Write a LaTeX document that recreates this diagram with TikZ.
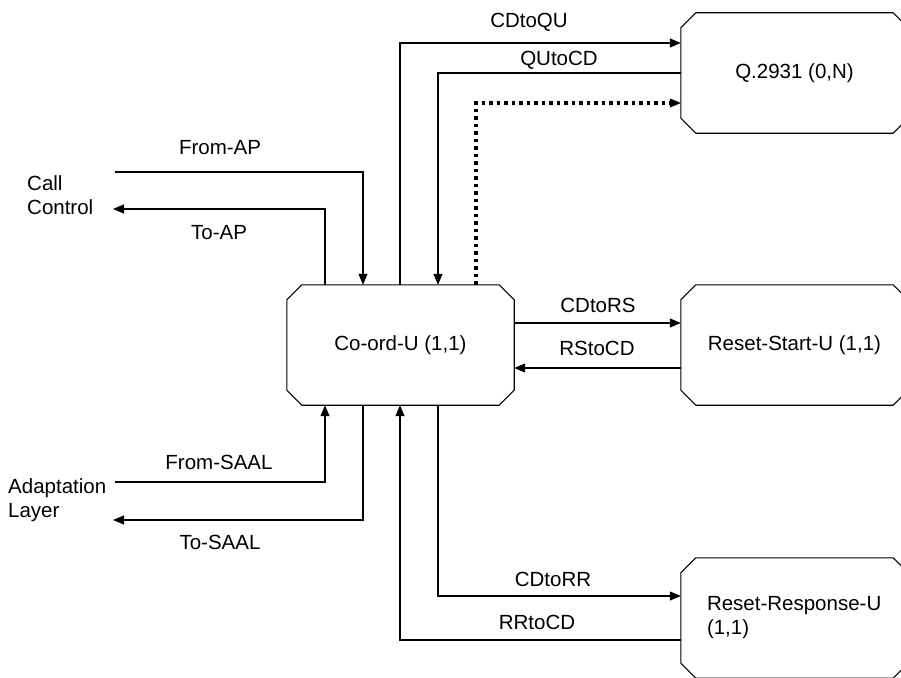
\documentclass[tikz,border=0pt]{standalone}
\usepackage{fontspec}
\setmainfont{Liberation Sans}
\usetikzlibrary{arrows.meta,calc}
\newcommand\chbox[1]{%
  \draw[boxline] ([xshift=15pt]#1.north west) -- ([xshift=-15pt]#1.north east)
    -- ([yshift=-15pt]#1.north east) -- ([yshift=15pt]#1.south east)
    -- ([xshift=-15pt]#1.south east) -- ([xshift=15pt]#1.south west)
    -- ([yshift=15pt]#1.south west) -- ([yshift=-15pt]#1.north west) -- cycle;}
\begin{document}
\begin{tikzpicture}[x=1pt,y=-1pt,
  every node/.style={font=\fontsize{20.5}{24}\selectfont},
  box/.style={minimum width=227pt,minimum height=120pt,inner sep=0pt},
  boxline/.style={line width=1.1pt,line join=miter},
  lbl/.style={inner sep=0pt},
  conn/.style={line width=1.1pt},
  arr/.style={conn,-{Triangle[length=11pt,width=9pt]}},
  dotarr/.style={line width=3.5pt,dash pattern=on 3.5pt off 4pt,
    -{Triangle[length=11pt,width=9pt,line width=0.5pt]}}]
\clip (0,0) rectangle (901,677);
\fill[white] (0,0) rectangle (901,677);

% boxes
\node[box] (cd) at (400.5,345) {Co-ord-U (1,1)};
\node[box] (q)  at (794.5,73)  {Q.2931 (0,N)};
\node[box] (rs) at (794.5,345) {Reset-Start-U (1,1)};
\node[box,text width=175pt,align=left] (rr) at (794.5,618) {Reset-Response-U\\(1,1)};
\chbox{cd}\chbox{q}\chbox{rs}\chbox{rr}

% outside parties
\node[lbl,anchor=west,align=left] (cc) at (27,195) {Call\\Control};
\node[lbl,anchor=west,align=left] (al) at (8,500) {Adaptation\\Layer};
\coordinate (apin) at (115,172);
\coordinate (apout) at (113,209);
\coordinate (saalin) at (115,482);
\coordinate (saalout) at (113,520);

% connectors
\draw[arr] (apin) -| ([xshift=-37.5pt]cd.north);
\draw[arr] ([xshift=-75.5pt]cd.north) |- (apout);
\draw[arr] (saalin) -| ([xshift=-75.5pt]cd.south);
\draw[arr] ([xshift=-37.5pt]cd.south) |- (saalout);
\draw[arr] ([xshift=-0.5pt]cd.north) |- ([yshift=30pt]q.west);
\draw[arr] (q.west) -| ([xshift=37.5pt]cd.north);
\draw[dotarr] ([xshift=75.5pt]cd.north) |- ([yshift=-30pt]q.west);
\draw[arr] ([yshift=22pt]cd.east) -- ([yshift=22pt]rs.west);
\draw[arr] ([yshift=-23pt]rs.west) -- ([yshift=-23pt]cd.east);
\draw[arr] ([xshift=37.5pt]cd.south) |- ([yshift=22pt]rr.west);
\draw[arr] ([yshift=-22pt]rr.west) -| ([xshift=-0.5pt]cd.south);

% labels
\node[lbl] (l1) at (220,148) {From-AP};
\node[lbl] (l2) at (219,233) {To-AP};
\node[lbl] (l3) at (219,462) {From-SAAL};
\node[lbl] (l4) at (220,542) {To-SAAL};
\node[lbl] (l5) at (529,22) {CDtoQU};
\node[lbl] (l6) at (559,60) {QUtoCD};
\node[lbl] (l7) at (598,305) {CDtoRS};
\node[lbl] (l8) at (597,348) {RStoCD};
\node[lbl] (l9) at (553,579) {CDtoRR};
\node[lbl] (l10) at (537,622) {RRtoCD};
\end{tikzpicture}
\end{document}
